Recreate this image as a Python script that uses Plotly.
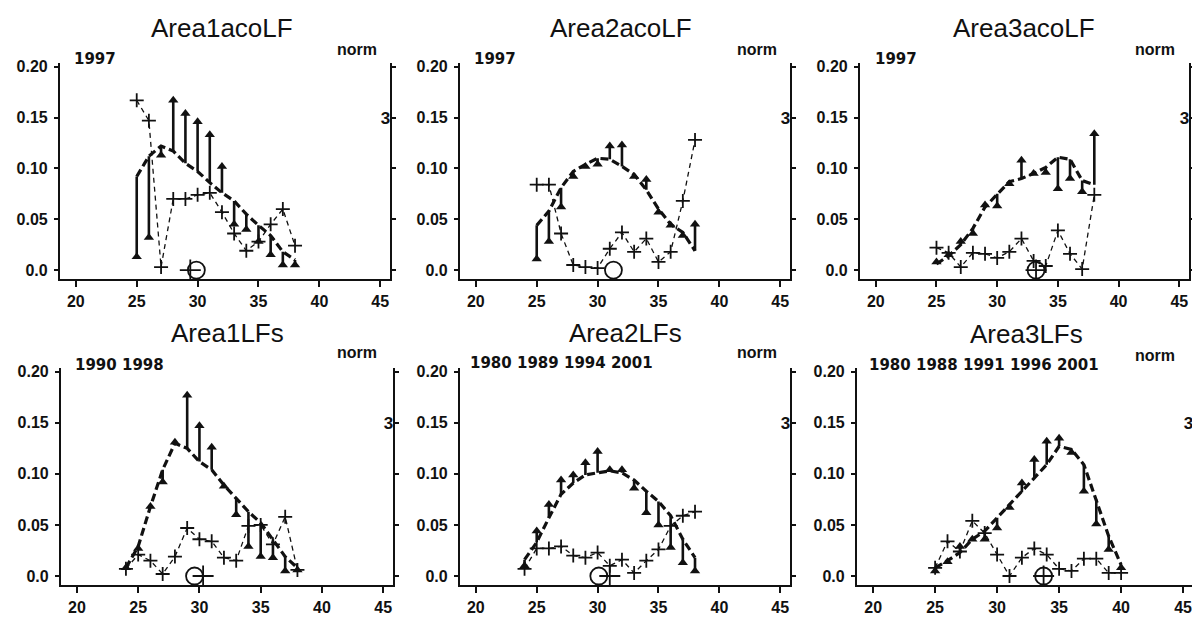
import plotly.graph_objects as go

# page body has an 8px margin; figure is laid out in screen pixels minus that offset
OFF = 8
W, H = 1192, 610

TITLES = ["Area1acoLF", "Area2acoLF", "Area3acoLF", "Area1LFs", "Area2LFs", "Area3LFs"]
YEARS = ["1997", "1997", "1997", "1990 1998", "1980 1989 1994 2001", "1980 1988 1991 1996 2001"]

X_TICKS = [20, 25, 30, 35, 40, 45]
Y_TICKS = [0.0, 0.05, 0.10, 0.15, 0.20]
Y_TICK_TEXT = ["0.0", "0.05", "0.10", "0.15", "0.20"]
NORM_TICKS = [0, 1, 2, 3, 4]
NORM_TICK_TEXT = ["", "", "", "3", ""]

# Panel 1 - Area1acoLF
P1_LEN = [25, 26, 27, 28, 29, 30, 31, 32, 33, 34, 35, 36, 37, 38]
P1_PLUS = [0.167, 0.147, 0.003, 0.070, 0.070, 0.074, 0.076, 0.057, 0.036, 0.019, 0.028, 0.045, 0.060, 0.024]
P1_FIT = [0.092, 0.112, 0.122, 0.117, 0.105, 0.097, 0.086, 0.076, 0.068, 0.055, 0.044, 0.034, 0.018, 0.010]
P1_OBS = [0.013, 0.032, 0.113, 0.167, 0.154, 0.146, 0.133, 0.102, 0.045, 0.040, 0.028, 0.015, 0.005, 0.005]

# Panel 2 - Area2acoLF
P2_LEN = [25, 26, 27, 28, 29, 30, 31, 32, 33, 34, 35, 36, 37, 38]
P2_PLUS = [0.084, 0.084, 0.036, 0.005, 0.003, 0.002, 0.021, 0.037, 0.018, 0.031, 0.008, 0.018, 0.068, 0.128]
P2_FIT = [0.044, 0.058, 0.081, 0.097, 0.104, 0.110, 0.109, 0.102, 0.094, 0.079, 0.060, 0.045, 0.037, 0.019]
P2_OBS = [0.011, 0.028, 0.062, 0.092, 0.102, 0.104, 0.122, 0.123, 0.092, 0.089, 0.057, 0.044, 0.034, 0.045]

# Panel 3 - Area3acoLF
P3_LEN = [25, 26, 27, 28, 29, 30, 31, 32, 33, 34, 35, 36, 37, 38]
P3_PLUS = [0.022, 0.017, 0.003, 0.017, 0.016, 0.012, 0.018, 0.031, 0.009, 0.004, 0.039, 0.016, 0.001, 0.074]
P3_FIT = [0.006, 0.014, 0.025, 0.041, 0.062, 0.075, 0.087, 0.090, 0.095, 0.101, 0.111, 0.109, 0.088, 0.084]
P3_OBS = [0.008, 0.015, 0.028, 0.036, 0.064, 0.063, 0.085, 0.108, 0.095, 0.096, 0.080, 0.090, 0.077, 0.134]

# Panel 4 - Area1LFs
P4_LEN = [24, 25, 26, 27, 28, 29, 30, 31, 32, 33, 34, 35, 36, 37, 38]
P4_PLUS = [0.007, 0.021, 0.015, 0.002, 0.019, 0.047, 0.036, 0.034, 0.018, 0.015, 0.049, 0.050, 0.031, 0.058, 0.006]
P4_FIT = [0.008, 0.029, 0.068, 0.104, 0.130, 0.125, 0.112, 0.104, 0.089, 0.076, 0.063, 0.052, 0.036, 0.019, 0.008]
P4_OBS = [0.008, 0.027, 0.068, 0.092, 0.131, 0.177, 0.147, 0.126, 0.088, 0.060, 0.029, 0.019, 0.018, 0.005, 0.006]

# Panel 5 - Area2LFs
P5_LEN = [24, 25, 26, 27, 28, 29, 30, 31, 32, 33, 34, 35, 36, 37, 38]
P5_PLUS = [0.007, 0.027, 0.027, 0.029, 0.020, 0.018, 0.023, 0.010, 0.016, 0.003, 0.015, 0.026, 0.049, 0.059, 0.063]
P5_FIT = [0.016, 0.033, 0.057, 0.080, 0.091, 0.099, 0.101, 0.103, 0.101, 0.094, 0.083, 0.073, 0.059, 0.036, 0.018]
P5_OBS = [0.010, 0.044, 0.070, 0.094, 0.099, 0.111, 0.122, 0.104, 0.104, 0.086, 0.062, 0.050, 0.028, 0.013, 0.005]

# Panel 6 - Area3LFs
P6_LEN = [25, 26, 27, 28, 29, 30, 31, 32, 33, 34, 35, 36, 37, 38, 39, 40]
P6_PLUS = [0.008, 0.034, 0.024, 0.054, 0.042, 0.021, 0.000, 0.018, 0.027, 0.021, 0.007, 0.005, 0.017, 0.017, 0.003, 0.003]
P6_FIT = [0.008, 0.015, 0.023, 0.036, 0.044, 0.057, 0.069, 0.082, 0.096, 0.109, 0.127, 0.124, 0.109, 0.075, 0.039, 0.011]
P6_OBS = [0.005, 0.014, 0.029, 0.036, 0.036, 0.047, 0.067, 0.091, 0.114, 0.132, 0.135, 0.121, 0.083, 0.051, 0.026, 0.008]

# mean-length markers on the x axis
MEAN_CIRCLE = [29.9, 31.3, 33.2, 29.6, 30.1, 33.75]
MEAN_PLUS = [29.4, None, 33.2, 30.3, 31.0, 33.75]

PANELS = [
    (P1_LEN, P1_PLUS, P1_FIT, P1_OBS),
    (P2_LEN, P2_PLUS, P2_FIT, P2_OBS),
    (P3_LEN, P3_PLUS, P3_FIT, P3_OBS),
    (P4_LEN, P4_PLUS, P4_FIT, P4_OBS),
    (P5_LEN, P5_PLUS, P5_FIT, P5_OBS),
    (P6_LEN, P6_PLUS, P6_FIT, P6_OBS),
]

# layout: panel boxes in screen pixels (left, right, top, bottom)
BOXES = [
    (60, 390, 59, 277), (460, 790, 59, 277), (860, 1189, 59, 277),
    (61, 393, 366, 585), (460, 790, 366, 585), (857, 1193, 366, 585),
]
TITLE_POS = [(222, 24), (621, 24), (1024, 24), (227, 331), (625, 331), (1026, 332)]
YEAR_POS = [(72, 55), (472, 55), (873, 55), (73, 363), (468, 361), (867, 363)]
NORM_POS = [(357, 46), (757, 46), (1155, 46), (357, 351), (757, 351), (1155, 354)]

X_RANGE = [18.7, 45.8]
Y_RANGE = [-0.009, 0.204]
NORM_SCALE = 20.0

FONT = "Liberation Sans, Arial, sans-serif"
YEAR_FONT = "DejaVu Sans, Liberation Sans, sans-serif"
INK = "#111111"


def px_x(p):
    return (p - OFF) / W


def px_y(p):
    return 1 - (p - OFF) / H


fig = go.Figure()
annotations = []
layout_axes = {}

for i, (lens, plus, fit, obs) in enumerate(PANELS):
    n = i + 1
    xa = "x" if n == 1 else f"x{n}"
    ya = "y" if n == 1 else f"y{n}"
    ya2 = f"y{n + 6}"

    # "+" series, thin dashed
    fig.add_trace(go.Scatter(
        x=lens, y=plus, mode="lines+markers", xaxis=xa, yaxis=ya,
        line=dict(color=INK, width=1.3, dash="5px,4px"),
        marker=dict(symbol="cross-thin", size=10, color=INK, line=dict(color=INK, width=1.8)),
        showlegend=False, hoverinfo="skip", cliponaxis=False))

    # fitted curve, thick dashed
    fig.add_trace(go.Scatter(
        x=lens, y=fit, mode="lines", xaxis=xa, yaxis=ya,
        line=dict(color=INK, width=3.2, dash="8px,4px"),
        showlegend=False, hoverinfo="skip"))

    # residual bars from fit to observation
    rx, ry = [], []
    for L, f, o in zip(lens, fit, obs):
        rx += [L, L, None]
        ry += [f, o, None]
    fig.add_trace(go.Scatter(
        x=rx, y=ry, mode="lines", xaxis=xa, yaxis=ya,
        line=dict(color=INK, width=2.6),
        showlegend=False, hoverinfo="skip"))

    # observation triangles
    fig.add_trace(go.Scatter(
        x=lens, y=obs, mode="markers", xaxis=xa, yaxis=ya,
        marker=dict(symbol="triangle-up", size=9, color=INK),
        showlegend=False, hoverinfo="skip", cliponaxis=False))

    # mean markers
    fig.add_trace(go.Scatter(
        x=[MEAN_CIRCLE[i]], y=[0], mode="markers", xaxis=xa, yaxis=ya,
        marker=dict(symbol="circle-open", size=17, color=INK, line=dict(color=INK, width=1.8)),
        showlegend=False, hoverinfo="skip", cliponaxis=False))
    if MEAN_PLUS[i] is not None:
        fig.add_trace(go.Scatter(
            x=[MEAN_PLUS[i]], y=[0], mode="markers", xaxis=xa, yaxis=ya,
            marker=dict(symbol="cross-thin", size=15, color=INK, line=dict(color=INK, width=1.8)),
            showlegend=False, hoverinfo="skip", cliponaxis=False))

    # right "norm" axis carrier
    fig.add_trace(go.Scatter(
        x=[None], y=[None], mode="markers", xaxis=xa, yaxis=ya2,
        showlegend=False, hoverinfo="skip"))

    l, r, t, b = BOXES[i]
    xdom = [max(0.0, px_x(l)), min(1.0, px_x(r))]
    ydom = [max(0.0, px_y(b)), min(1.0, px_y(t))]

    xkey = "xaxis" if n == 1 else f"xaxis{n}"
    ykey = "yaxis" if n == 1 else f"yaxis{n}"
    y2key = f"yaxis{n + 6}"

    tickfont = dict(family=FONT, size=16, color=INK, weight="bold")
    layout_axes[xkey] = dict(
        domain=xdom, anchor=ya, range=X_RANGE, tickvals=X_TICKS,
        ticks="outside", ticklen=6, tickwidth=1.5, tickcolor=INK,
        showline=True, linecolor=INK, linewidth=2.2, showgrid=False, zeroline=False,
        tickfont=tickfont, ticklabelstandoff=0)
    layout_axes[ykey] = dict(
        domain=ydom, anchor=xa, range=Y_RANGE, tickvals=Y_TICKS, ticktext=Y_TICK_TEXT,
        ticks="outside", ticklen=4, tickwidth=1.5, tickcolor=INK,
        showline=True, linecolor=INK, linewidth=2.2, showgrid=False, zeroline=False,
        tickfont=tickfont, ticklabelstandoff=3)
    layout_axes[y2key] = dict(
        overlaying=ya, anchor=xa, side="right",
        range=[Y_RANGE[0] * NORM_SCALE, Y_RANGE[1] * NORM_SCALE],
        tickvals=NORM_TICKS, ticktext=NORM_TICK_TEXT,
        ticks="outside", ticklen=4, tickwidth=1.5, tickcolor=INK,
        ticklabelposition="inside",
        showline=True, linecolor=INK, linewidth=2.2, showgrid=False, zeroline=False,
        tickfont=dict(family=FONT, size=17, color=INK, weight="bold"))

    tx, ty = TITLE_POS[i]
    annotations.append(dict(
        text=TITLES[i], x=px_x(tx), y=px_y(ty), xref="paper", yref="paper",
        xanchor="center", yanchor="middle", showarrow=False,
        font=dict(family=FONT, size=26, color=INK)))
    yx, yy = YEAR_POS[i]
    annotations.append(dict(
        text=YEARS[i], x=px_x(yx), y=px_y(yy), xref="paper", yref="paper",
        xanchor="left", yanchor="middle", showarrow=False,
        font=dict(family=YEAR_FONT, size=15, color=INK, weight="bold")))
    nx, ny = NORM_POS[i]
    annotations.append(dict(
        text="norm", x=px_x(nx), y=px_y(ny), xref="paper", yref="paper",
        xanchor="center", yanchor="middle", showarrow=False,
        font=dict(family=FONT, size=16, color=INK, weight="bold")))

fig.update_layout(
    width=W, height=H,
    margin=dict(l=0, r=0, t=0, b=0),
    paper_bgcolor="white", plot_bgcolor="white",
    showlegend=False,
    annotations=annotations,
    **layout_axes,
)

fig.write_html("out.html")
